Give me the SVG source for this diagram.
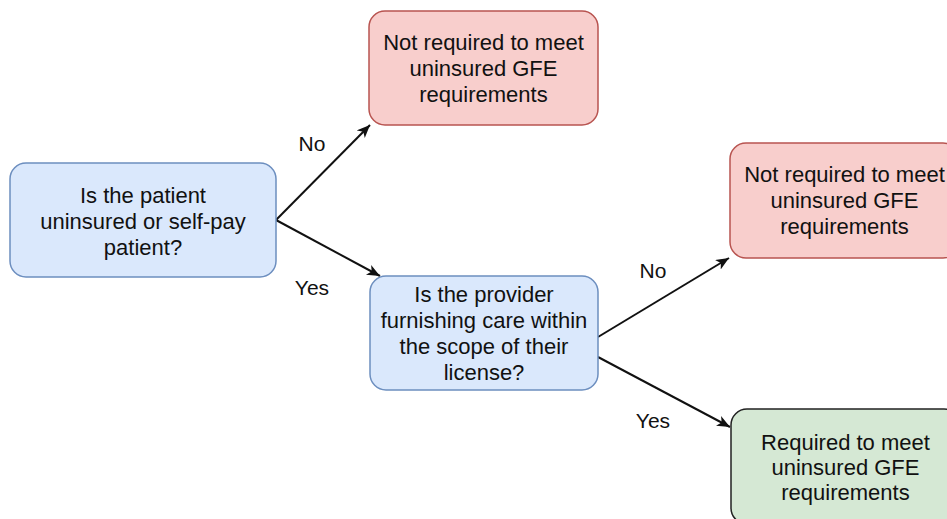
<svg xmlns="http://www.w3.org/2000/svg" width="947" height="519" viewBox="0 0 947 519">
<style>
.box{stroke-width:1.5}
.blue{fill:#dae8fc;stroke:#6c8ebf}
.red{fill:#f8cecc;stroke:#b85450}
.green{fill:#d5e8d4;stroke:#222}
.t{font-family:"Liberation Sans",Arial,Helvetica,sans-serif;font-size:22px;fill:#111;text-anchor:middle}
.lbl{font-family:"Liberation Sans",Arial,Helvetica,sans-serif;font-size:21px;fill:#111;text-anchor:middle}
.edge{stroke:#111;stroke-width:2;fill:none;marker-end:url(#arr)}
</style>
<defs>
<marker id="arr" markerUnits="userSpaceOnUse" markerWidth="14" markerHeight="12" refX="13" refY="5.5" orient="auto">
<path d="M0,0 L13,5.5 L0,11 L3.5,5.5 Z" fill="#111"/>
</marker>
</defs>
<rect width="947" height="519" fill="#fff"/>
<g id="edges">
<line class="edge" x1="276" y1="220" x2="370" y2="125"/>
<line class="edge" x1="276" y1="220" x2="380" y2="276"/>
<line class="edge" x1="598" y1="337" x2="729" y2="258"/>
<line class="edge" x1="598" y1="357" x2="730" y2="427"/>
<text class="lbl" x="312" y="151">No</text>
<text class="lbl" x="312" y="295">Yes</text>
<text class="lbl" x="653" y="278">No</text>
<text class="lbl" x="653" y="428">Yes</text>
</g>
<g id="q1">
<rect class="box blue" x="10" y="163" width="266" height="114" rx="16"/>
<text class="t" x="143" y="203">Is the patient</text>
<text class="t" x="143" y="229">uninsured or self-pay</text>
<text class="t" x="143" y="255">patient?</text>
</g>
<g id="r1">
<rect class="box red" x="369" y="11" width="229" height="114" rx="16"/>
<text class="t" x="483.5" y="50">Not required to meet</text>
<text class="t" x="483.5" y="76">uninsured GFE</text>
<text class="t" x="483.5" y="102">requirements</text>
</g>
<g id="q2">
<rect class="box blue" x="370" y="276" width="228" height="114" rx="16"/>
<text class="t" x="484" y="302">Is the provider</text>
<text class="t" x="484" y="328">furnishing care within</text>
<text class="t" x="484" y="354">the scope of their</text>
<text class="t" x="484" y="380">license?</text>
</g>
<g id="r2">
<rect class="box red" x="730" y="143" width="229" height="115" rx="16"/>
<text class="t" x="844.5" y="182">Not required to meet</text>
<text class="t" x="844.5" y="208">uninsured GFE</text>
<text class="t" x="844.5" y="234">requirements</text>
</g>
<g id="g1">
<rect class="box green" x="731" y="409" width="229" height="115" rx="16"/>
<text class="t" x="845.5" y="450">Required to meet</text>
<text class="t" x="845.5" y="475">uninsured GFE</text>
<text class="t" x="845.5" y="500">requirements</text>
</g>
</svg>
